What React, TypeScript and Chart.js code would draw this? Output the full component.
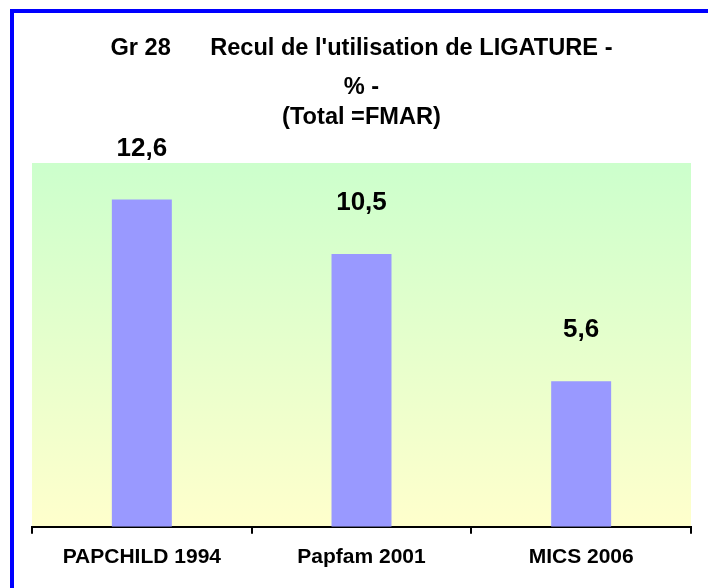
import React, { useEffect, useRef } from "react";
import { Chart, registerables } from "chart.js";

Chart.register(...registerables);

const categories = ["PAPCHILD 1994", "Papfam 2001", "MICS 2006"];
const values = [12.6, 10.5, 5.6];
const titleLines = ["Gr 28      Recul de l'utilisation de LIGATURE -", "% -", "(Total =FMAR)"];
const yMax = 14;

const FONT = "'Liberation Sans', Arial, Helvetica, sans-serif";

export default function App() {
  const ref = useRef<HTMLCanvasElement | null>(null);

  useEffect(() => {
    if (!ref.current) return;
    const bgPlugin = {
      id: "bgGradient",
      beforeDraw(chart: any) {
        const { ctx, chartArea } = chart;
        if (!chartArea) return;
        const g = ctx.createLinearGradient(0, chartArea.top, 0, chartArea.bottom);
        g.addColorStop(0, "#CCFFCC");
        g.addColorStop(1, "#FFFFCC");
        ctx.save();
        ctx.fillStyle = g;
        ctx.fillRect(chartArea.left, chartArea.top, chartArea.right - chartArea.left, chartArea.bottom - chartArea.top);
        ctx.restore();
      },
    };
    const labelPlugin = {
      id: "valueLabels",
      afterDatasetsDraw(chart: any) {
        const { ctx } = chart;
        const meta = chart.getDatasetMeta(0);
        ctx.save();
        ctx.font = `bold 26px ${FONT}`;
        ctx.fillStyle = "#000";
        ctx.textAlign = "center";
        ctx.textBaseline = "middle";
        meta.data.forEach((bar: any, i: number) => {
          const txt = String(values[i]).replace(".", ",");
          ctx.fillText(txt, bar.x, bar.y - 51);
        });
        ctx.restore();
      },
    };
    const titlePlugin = {
      id: "customTitle",
      afterDraw(chart: any) {
        const { ctx, chartArea } = chart;
        const cx = (chartArea.left + chartArea.right) / 2;
        const ys = [48, 87, 117];
        ctx.save();
        ctx.font = `bold 23.6px ${FONT}`;
        ctx.fillStyle = "#000";
        ctx.textAlign = "center";
        ctx.textBaseline = "middle";
        titleLines.forEach((t, i) => ctx.fillText(t, cx, ys[i]));
        ctx.restore();
      },
    };
    const chart = new Chart(ref.current, {
      type: "bar",
      data: {
        labels: categories,
        datasets: [
          {
            data: values,
            backgroundColor: "#9999FF",
            borderWidth: 0,
            categoryPercentage: 1,
            barPercentage: 0.273,
          },
        ],
      },
      options: {
        animation: false,
        responsive: false,
        maintainAspectRatio: false,
        layout: { padding: { left: 32, right: 17, top: 163, bottom: 7 } },
        plugins: {
          legend: { display: false },
          title: { display: false },
          tooltip: { enabled: false },
        },
        scales: {
          x: {
            grid: {
              offset: true,
              drawOnChartArea: false,
              drawTicks: true,
              tickLength: 7,
              color: "#000",
              lineWidth: 2,
            },
            border: { display: true, color: "#000", width: 2 },
            ticks: {
              color: "#000",
              padding: 11,
              font: { family: FONT, size: 21, weight: "bold" },
              maxRotation: 0,
            },
          },
          y: {
            display: false,
            min: 0,
            max: yMax,
          },
        },
      },
      plugins: [bgPlugin, labelPlugin, titlePlugin],
    });
    return () => chart.destroy();
  }, []);

  return (
    <div style={{ position: "absolute", left: 0, top: 0, width: 708, height: 588, overflow: "hidden", background: "#fff" }}>
      <div
        style={{
          position: "absolute",
          left: 10,
          top: 9,
          width: 740,
          height: 640,
          borderLeft: "4px solid #0000FF",
          borderTop: "4px solid #0000FF",
        }}
      />
      <canvas ref={ref} width={708} height={588} style={{ position: "absolute", left: 0, top: 0, width: 708, height: 588 }} />
    </div>
  );
}
